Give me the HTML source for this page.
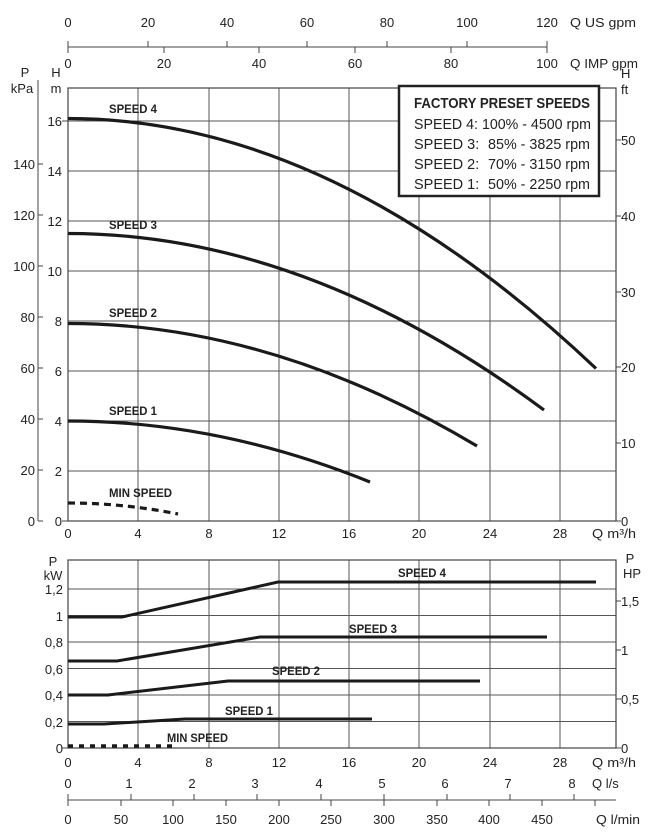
<!DOCTYPE html>
<html><head><meta charset="utf-8"><style>
body{margin:0;background:#fff}
svg{display:block;font-family:"Liberation Sans",sans-serif}
.n{font-size:13px;fill:#222}
.b{font-family:"Liberation Sans",sans-serif;font-weight:bold;font-size:12px;fill:#222}
</style></head><body>
<svg width="653" height="840" viewBox="0 0 653 840">
<line x1="68" y1="47" x2="547" y2="47" stroke="#444" stroke-width="1"/>
<g stroke="#444">
<line x1="68" y1="41" x2="68" y2="53"/>
<line x1="148" y1="41" x2="148" y2="47"/><line x1="227" y1="41" x2="227" y2="47"/><line x1="307" y1="41" x2="307" y2="47"/><line x1="387" y1="41" x2="387" y2="47"/><line x1="467" y1="41" x2="467" y2="47"/><line x1="547" y1="41" x2="547" y2="53"/>
<line x1="164" y1="47" x2="164" y2="53"/><line x1="259" y1="47" x2="259" y2="53"/><line x1="355" y1="47" x2="355" y2="53"/><line x1="451" y1="47" x2="451" y2="53"/>
</g>
<g class="n" text-anchor="middle">
<text x="68" y="27">0</text><text x="148" y="27">20</text><text x="227" y="27">40</text><text x="307" y="27">60</text><text x="387" y="27">80</text><text x="467" y="27">100</text><text x="547" y="27">120</text>
<text x="68" y="68">0</text><text x="164" y="68">20</text><text x="259" y="68">40</text><text x="355" y="68">60</text><text x="451" y="68">80</text><text x="547" y="68">100</text>
</g>
<text class="n" x="570" y="27" textLength="66" lengthAdjust="spacingAndGlyphs">Q US gpm</text><text class="n" x="570" y="68" textLength="68" lengthAdjust="spacingAndGlyphs">Q IMP gpm</text>

<g stroke="#555" stroke-width="1">
<line x1="138" y1="88" x2="138" y2="521"/><line x1="209" y1="88" x2="209" y2="521"/><line x1="279" y1="88" x2="279" y2="521"/><line x1="349" y1="88" x2="349" y2="521"/><line x1="419" y1="88" x2="419" y2="521"/><line x1="490" y1="88" x2="490" y2="521"/><line x1="560" y1="88" x2="560" y2="521"/>
<line x1="68" y1="471" x2="616" y2="471"/><line x1="68" y1="421" x2="616" y2="421"/><line x1="68" y1="371" x2="616" y2="371"/><line x1="68" y1="321" x2="616" y2="321"/><line x1="68" y1="271" x2="616" y2="271"/><line x1="68" y1="221" x2="616" y2="221"/><line x1="68" y1="171" x2="616" y2="171"/><line x1="68" y1="121" x2="616" y2="121"/>
</g>
<rect x="68" y="88" width="548" height="433" fill="none" stroke="#444" stroke-width="1.2"/>
<line x1="38" y1="80" x2="38" y2="521" stroke="#444"/>
<g stroke="#444"><line x1="38" y1="521" x2="43" y2="521"/><line x1="38" y1="470" x2="43" y2="470"/><line x1="38" y1="419" x2="43" y2="419"/><line x1="38" y1="368" x2="43" y2="368"/><line x1="38" y1="317" x2="43" y2="317"/><line x1="38" y1="266" x2="43" y2="266"/><line x1="38" y1="215" x2="43" y2="215"/><line x1="38" y1="164" x2="43" y2="164"/>
<line x1="62" y1="521" x2="68" y2="521"/><line x1="62" y1="121" x2="68" y2="121"/>
<line x1="616" y1="443" x2="621" y2="443"/><line x1="616" y1="367" x2="621" y2="367"/><line x1="616" y1="292" x2="621" y2="292"/><line x1="616" y1="216" x2="621" y2="216"/><line x1="616" y1="140" x2="621" y2="140"/><line x1="616" y1="521" x2="621" y2="521"/></g>
<g class="n" text-anchor="end">
<text x="35" y="526">0</text><text x="35" y="475">20</text><text x="35" y="424">40</text><text x="35" y="373">60</text><text x="35" y="322">80</text><text x="35" y="271">100</text><text x="35" y="220">120</text><text x="35" y="169">140</text>
<text x="62" y="526">0</text><text x="62" y="476">2</text><text x="62" y="426">4</text><text x="62" y="376">6</text><text x="62" y="326">8</text><text x="62" y="276">10</text><text x="62" y="226">12</text><text x="62" y="176">14</text><text x="62" y="126">16</text>
</g>
<g class="n"><text x="621" y="526">0</text><text x="621" y="448">10</text><text x="621" y="372">20</text><text x="621" y="297">30</text><text x="621" y="221">40</text><text x="621" y="145">50</text>
<text x="621" y="78">H</text><text x="621" y="94">ft</text></g>
<g class="n" text-anchor="middle"><text x="25" y="77">P</text><text x="22" y="93">kPa</text><text x="56" y="77">H</text><text x="56" y="93">m</text></g>
<g class="n" text-anchor="middle">
<text x="68" y="538">0</text><text x="138" y="538">4</text><text x="209" y="538">8</text><text x="279" y="538">12</text><text x="349" y="538">16</text><text x="419" y="538">20</text><text x="490" y="538">24</text><text x="560" y="538">28</text></g>
<text class="n" x="592" y="538" textLength="44" lengthAdjust="spacingAndGlyphs">Q m³/h</text>

<g fill="none" stroke="#1a1a1a" stroke-width="3.2">
<path d="M68,118.5 Q332,118.5 596,368.5"/>
<path d="M68,233.5 Q306,233.5 544,410"/>
<path d="M68,323.5 Q272,323.5 477,446"/>
<path d="M68,421 Q219,421 370,482"/>
<path d="M68,503 Q123,503 178,514" stroke-dasharray="7,5"/>
</g>
<g class="b"><text x="109" y="113" textLength="48" lengthAdjust="spacingAndGlyphs">SPEED 4</text><text x="109" y="229" textLength="48" lengthAdjust="spacingAndGlyphs">SPEED 3</text><text x="109" y="317" textLength="48" lengthAdjust="spacingAndGlyphs">SPEED 2</text><text x="109" y="415" textLength="48" lengthAdjust="spacingAndGlyphs">SPEED 1</text><text x="109" y="497" textLength="63" lengthAdjust="spacingAndGlyphs">MIN SPEED</text></g>

<rect x="399" y="86" width="200" height="110" fill="#fff" stroke="#222" stroke-width="2.5"/>
<text x="414" y="108" textLength="176" lengthAdjust="spacingAndGlyphs" style="font-weight:bold;font-size:15px" fill="#222">FACTORY PRESET SPEEDS</text>
<g style="font-size:14.5px" fill="#222">
<text x="414" y="129" textLength="177" lengthAdjust="spacingAndGlyphs">SPEED 4: 100% - 4500 rpm</text>
<text x="414" y="149">SPEED 3:</text><text x="590" y="149" text-anchor="end" textLength="102" lengthAdjust="spacingAndGlyphs">85% - 3825 rpm</text>
<text x="414" y="169">SPEED 2:</text><text x="590" y="169" text-anchor="end" textLength="102" lengthAdjust="spacingAndGlyphs">70% - 3150 rpm</text>
<text x="414" y="189">SPEED 1:</text><text x="590" y="189" text-anchor="end" textLength="102" lengthAdjust="spacingAndGlyphs">50% - 2250 rpm</text></g>

<g stroke="#555" stroke-width="1">
<line x1="138" y1="560" x2="138" y2="748"/><line x1="209" y1="560" x2="209" y2="748"/><line x1="279" y1="560" x2="279" y2="748"/><line x1="349" y1="560" x2="349" y2="748"/><line x1="419" y1="560" x2="419" y2="748"/><line x1="490" y1="560" x2="490" y2="748"/><line x1="560" y1="560" x2="560" y2="748"/>
<line x1="68" y1="721.5" x2="616" y2="721.5"/><line x1="68" y1="695" x2="616" y2="695"/><line x1="68" y1="668.5" x2="616" y2="668.5"/><line x1="68" y1="642" x2="616" y2="642"/><line x1="68" y1="615.5" x2="616" y2="615.5"/><line x1="68" y1="589" x2="616" y2="589"/>
</g>
<rect x="68" y="560" width="548" height="188" fill="none" stroke="#444" stroke-width="1.2"/>
<g stroke="#444"><line x1="616" y1="748" x2="621" y2="748"/><line x1="616" y1="699" x2="621" y2="699"/><line x1="616" y1="650" x2="621" y2="650"/><line x1="616" y1="601" x2="621" y2="601"/><line x1="62" y1="748" x2="68" y2="748"/></g>
<g class="n" text-anchor="end">
<text x="63" y="753">0</text><text x="63" y="727">0,2</text><text x="63" y="700">0,4</text><text x="63" y="674">0,6</text><text x="63" y="647">0,8</text><text x="63" y="621">1</text><text x="63" y="594">1,2</text></g>
<g class="n" text-anchor="middle"><text x="53" y="566">P</text><text x="53" y="580">kW</text><text x="630" y="563">P</text><text x="632" y="578">HP</text></g>
<g class="n"><text x="621" y="753">0</text><text x="621" y="704">0,5</text><text x="621" y="655">1</text><text x="621" y="606">1,5</text></g>
<g fill="none" stroke="#1a1a1a" stroke-width="3">
<path d="M68,617 L122,617 L278,582 L596,582"/>
<path d="M68,661 L117,661 L260,637 L547,637"/>
<path d="M68,695 L108,695 L228,681 L480,681"/>
<path d="M68,724 L104,724 L185,719 L372,719"/>
<path d="M68,746 L178,746" stroke-dasharray="5,6" stroke-width="3.5"/>
</g>
<g class="b"><text x="398" y="577" textLength="48" lengthAdjust="spacingAndGlyphs">SPEED 4</text><text x="349" y="633" textLength="48" lengthAdjust="spacingAndGlyphs">SPEED 3</text><text x="272" y="675" textLength="48" lengthAdjust="spacingAndGlyphs">SPEED 2</text><text x="225" y="715" textLength="48" lengthAdjust="spacingAndGlyphs">SPEED 1</text><text x="167" y="742" textLength="61" lengthAdjust="spacingAndGlyphs">MIN SPEED</text></g>
<g class="n" text-anchor="middle">
<text x="68" y="767">0</text><text x="138" y="767">4</text><text x="209" y="767">8</text><text x="279" y="767">12</text><text x="349" y="767">16</text><text x="419" y="767">20</text><text x="490" y="767">24</text><text x="560" y="767">28</text></g>
<text class="n" x="592" y="767" textLength="44" lengthAdjust="spacingAndGlyphs">Q m³/h</text>

<line x1="68" y1="800" x2="616" y2="800" stroke="#444"/>
<g stroke="#444">
<line x1="68" y1="794" x2="68" y2="806"/>
<line x1="131" y1="794" x2="131" y2="800"/><line x1="194" y1="794" x2="194" y2="800"/><line x1="257" y1="794" x2="257" y2="800"/><line x1="321" y1="794" x2="321" y2="800"/><line x1="384" y1="794" x2="384" y2="800"/><line x1="447" y1="794" x2="447" y2="800"/><line x1="510" y1="794" x2="510" y2="800"/><line x1="574" y1="794" x2="574" y2="800"/>
<line x1="121" y1="800" x2="121" y2="806"/><line x1="173" y1="800" x2="173" y2="806"/><line x1="226" y1="800" x2="226" y2="806"/><line x1="279" y1="800" x2="279" y2="806"/><line x1="331" y1="800" x2="331" y2="806"/><line x1="384" y1="800" x2="384" y2="806"/><line x1="437" y1="800" x2="437" y2="806"/><line x1="489" y1="800" x2="489" y2="806"/><line x1="542" y1="800" x2="542" y2="806"/><line x1="595" y1="800" x2="595" y2="806"/>
</g>
<g class="n" text-anchor="middle">
<text x="68" y="788">0</text><text x="129" y="788">1</text><text x="192" y="788">2</text><text x="255" y="788">3</text><text x="319" y="788">4</text><text x="382" y="788">5</text><text x="445" y="788">6</text><text x="508" y="788">7</text><text x="572" y="788">8</text>
<text x="68" y="824">0</text><text x="121" y="824">50</text><text x="173" y="824">100</text><text x="226" y="824">150</text><text x="279" y="824">200</text><text x="331" y="824">250</text><text x="384" y="824">300</text><text x="437" y="824">350</text><text x="489" y="824">400</text><text x="542" y="824">450</text></g>
<text class="n" x="592" y="788">Q l/s</text><text class="n" x="596" y="824" textLength="44" lengthAdjust="spacingAndGlyphs">Q l/min</text>
</svg>
</body></html>
